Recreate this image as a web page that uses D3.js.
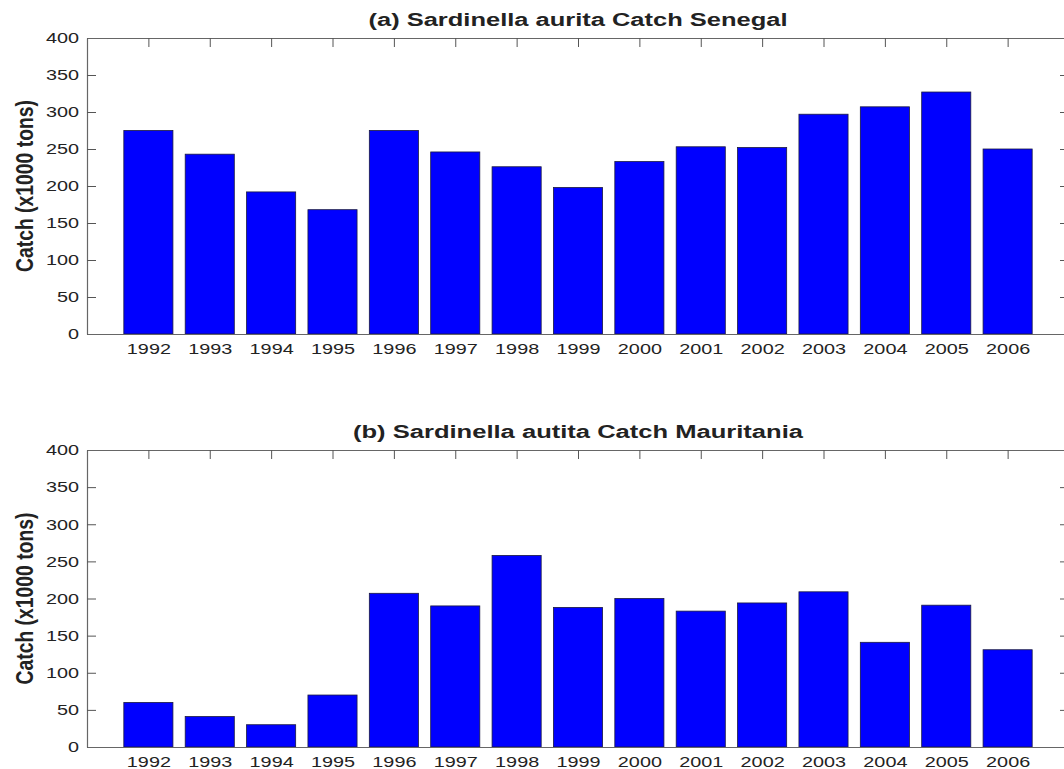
<!DOCTYPE html>
<html>
<head>
<meta charset="utf-8">
<script src="https://cdn.jsdelivr.net/npm/d3@7"></script>
<style>
  html, body { margin: 0; padding: 0; background: #fff; }
  svg { display: block; }
  text { font-family: "Liberation Sans", Arial, Helvetica, sans-serif; fill: #222; }
</style>
</head>
<body>
<svg id="chart" width="1064" height="769"></svg>
<script>
const years = [1992,1993,1994,1995,1996,1997,1998,1999,2000,2001,2002,2003,2004,2005,2006];
const senegal = [275,243,192,168,275,246,226,198,233,253,252,297,307,327,250];
const mauritania = [60,41,30,70,207,190,258,188,200,183,194,209,141,191,131];
const yTicks = [0,50,100,150,200,250,300,350,400];
const titles = ["(a) Sardinella aurita Catch Senegal", "(b) Sardinella autita Catch Mauritania"];
const yLabel = "Catch (x1000 tons)";

const svg = d3.select("#chart");
const stretch = 1.32;
const panels = [
  {title: titles[0], values: senegal, top: 38, bottom: 334, tl: 419},
  {title: titles[1], values: mauritania, top: 450, bottom: 747, tl: 450}
];
const x = d3.scaleLinear().domain([1991, 2007]).range([87, 1069]);
const barW = (x(1992) - x(1991)) * 0.8;

function stretchText(sel, factor) {
  sel.each(function() {
    const w = this.getComputedTextLength();
    d3.select(this).attr("textLength", w * factor).attr("lengthAdjust", "spacingAndGlyphs");
  });
}

panels.forEach(p => {
  const y = d3.scaleLinear().domain([0, 400]).range([p.bottom, p.top]);
  const g = svg.append("g");

  g.selectAll("rect.bar").data(p.values).join("rect")
    .attr("class", "bar")
    .attr("x", (d, i) => x(years[i]) - barW / 2)
    .attr("width", barW)
    .attr("y", d => y(d))
    .attr("height", d => y(0) - y(d))
    .attr("fill", "#0000ff")
    .attr("stroke", "#1a1a40")
    .attr("stroke-width", 0.8);

  const styleAxis = ax => {
    ax.selectAll("path.domain").attr("stroke", "#666").attr("stroke-width", 1.2);
    ax.selectAll(".tick line").attr("stroke", "#555").attr("stroke-width", 1);
  };

  const left = g.append("g").attr("transform", `translate(${x(1991)},0)`)
    .call(d3.axisLeft(y).tickValues(yTicks).tickSizeInner(-9).tickSizeOuter(0).tickPadding(8));
  styleAxis(left);
  left.selectAll(".tick text").attr("font-size", 15).attr("fill", "#222")
    .style("font-family", "Liberation Sans, Arial, sans-serif");
  stretchText(left.selectAll(".tick text"), stretch);

  const right = g.append("g").attr("transform", `translate(${x(2007)},0)`)
    .call(d3.axisRight(y).tickValues(yTicks).tickSizeInner(-9).tickSizeOuter(0).tickFormat(""));
  styleAxis(right);

  const bottom = g.append("g").attr("transform", `translate(0,${p.bottom})`)
    .call(d3.axisBottom(x).tickValues(years).tickSizeInner(-9).tickSizeOuter(0).tickPadding(9).tickFormat(d3.format("d")));
  styleAxis(bottom);
  bottom.selectAll(".tick line").remove();
  bottom.selectAll(".tick text").attr("font-size", 15).attr("fill", "#222")
    .style("font-family", "Liberation Sans, Arial, sans-serif");
  stretchText(bottom.selectAll(".tick text"), stretch);

  const topAx = g.append("g").attr("transform", `translate(0,${p.top})`)
    .call(d3.axisTop(x).tickValues(years).tickSizeInner(-9).tickSizeOuter(0).tickFormat(""));
  styleAxis(topAx);

  g.append("text")
    .attr("x", (x(1991) + x(2007)) / 2)
    .attr("y", p.top - 12)
    .attr("text-anchor", "middle")
    .attr("font-size", 18)
    .attr("font-weight", "bold")
    .attr("fill", "#111")
    .attr("textLength", p.tl)
    .attr("lengthAdjust", "spacingAndGlyphs")
    .text(p.title);

  const cy = (p.top + p.bottom) / 2;
  g.append("text")
    .attr("transform", `translate(33,${cy}) scale(1.22,1) rotate(-90)`)
    .attr("text-anchor", "middle")
    .attr("font-size", 19)
    .attr("font-weight", "bold")
    .attr("fill", "#111")
    .attr("textLength", 172)
    .attr("lengthAdjust", "spacingAndGlyphs")
    .text(yLabel);
});
</script>
</body>
</html>
